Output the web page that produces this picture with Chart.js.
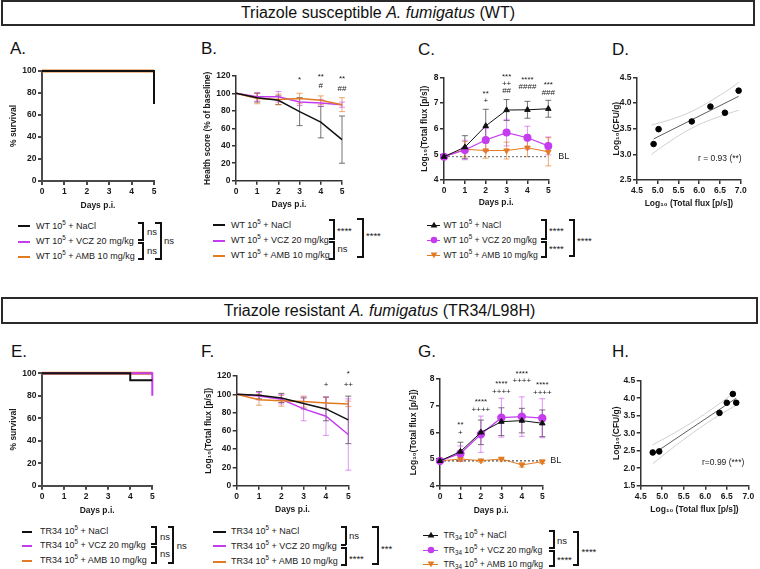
<!DOCTYPE html>
<html><head><meta charset="utf-8">
<script src="https://cdn.jsdelivr.net/npm/chart.js@4.4.1/dist/chart.umd.min.js"></script>
<style>
html,body{margin:0;padding:0;background:#fff;overflow:hidden;}
#root{position:relative;width:760px;height:569px;overflow:hidden;font-family:"Liberation Sans",Arial,sans-serif;color:#1a1a1a;}
.box{position:absolute;border:2px solid #2a2a2a;box-sizing:border-box;display:flex;align-items:center;justify-content:center;font-size:16px;color:#111;white-space:nowrap;}
.lbl{position:absolute;font-size:17px;line-height:20px;color:#111;}
.lg{position:absolute;font-size:9px;line-height:13px;height:13px;white-space:nowrap;color:#1a1a1a;}
.lg.sm{font-size:8.6px;}
.lg sup{font-size:6.3px;line-height:0;vertical-align:4px;}
.lg sub{font-size:6.3px;line-height:0;vertical-align:-2px;}
.br{position:absolute;background:#111;}
.st{position:absolute;font-size:9.5px;line-height:10px;white-space:nowrap;color:#1a1a1a;}
canvas{position:absolute;}
</style></head><body><div id="root"></div>
<script>
// ---------------- DATA ----------------
const DAYS = [0, 1, 2, 3, 4, 5];

// Survival (Kaplan-Meier step points)
const A_NACL_T = [0, 5],     A_NACL_S = [100, 70];
const A_VCZ_T  = [0, 5],     A_VCZ_S  = [100, 100];
const A_AMB_T  = [0, 5],     A_AMB_S  = [100, 100];
const E_NACL_T = [0, 4, 5],  E_NACL_S = [100, 93.75, 93.75];
const E_VCZ_T  = [0, 5],     E_VCZ_S  = [100, 80];
const E_AMB_T  = [0, 5],     E_AMB_S  = [100, 100];

// Health score WT (mean, SD)
const B_NACL = [100, 95, 92, 79, 67, 47],   B_NACL_SD = [0, 5, 5, 16, 18, 27];
const B_VCZ  = [100, 96, 96, 90, 89, 87],   B_VCZ_SD  = [0, 5, 6, 4, 4, 3];
const B_AMB  = [100, 94, 93, 94, 92, 87],   B_AMB_SD  = [0, 6, 6, 6, 5, 8];

// Log10 total flux WT
const C_NACL = [4.91, 5.28, 6.11, 6.73, 6.74, 6.78], C_NACL_SD = [0.03, 0.45, 0.65, 0.41, 0.33, 0.33];
const C_VCZ  = [4.91, 5.17, 5.56, 5.85, 5.65, 5.33], C_VCZ_SD  = [0, 0.38, 0.45, 0.52, 0.45, 0.35];
const C_AMB  = [4.91, 5.20, 5.15, 5.15, 5.26, 5.10], C_AMB_SD  = [0, 0.30, 0.30, 0.33, 0.35, 0.55];
const C_BL = 4.91;

// Correlation WT
const D_FLUX = [4.90, 5.02, 5.82, 6.27, 6.62, 6.95];
const D_CFU  = [3.20, 3.49, 3.64, 3.93, 3.81, 4.24];
const D_FIT_X = [4.90, 6.95], D_FIT_Y = [3.30, 4.13];
const D_BAND_X  = [4.85, 5.2, 5.6, 6.0, 6.4, 6.8, 6.95];
const D_BAND_UP = [3.57, 3.65, 3.76, 3.91, 4.10, 4.31, 4.40];
const D_BAND_LO = [3.00, 3.20, 3.41, 3.58, 3.71, 3.82, 3.86];

// Health score TR34 (mean, SD)
const F_NACL = [100, 99, 96, 90, 84, 72],     F_NACL_SD = [0, 4, 5, 6, 13, 26];
const F_VCZ  = [100, 98, 94.5, 84, 76, 56],   F_VCZ_SD  = [0, 4, 5, 13, 21, 39];
const F_AMB  = [100, 94, 93, 92, 90.5, 89.5], F_AMB_SD  = [0, 6, 6, 6, 6, 3];

// Log10 total flux TR34
const G_NACL = [4.93, 5.28, 6.00, 6.40, 6.44, 6.34], G_NACL_SD = [0.03, 0.35, 0.46, 0.52, 0.46, 0.50];
const G_VCZ  = [4.93, 5.21, 5.93, 6.55, 6.59, 6.53], G_VCZ_SD  = [0, 0.28, 0.68, 0.73, 0.74, 0.73];
const G_AMB  = [4.93, 5.00, 4.94, 5.00, 4.78, 4.90], G_AMB_SD  = [0, 0.08, 0.05, 0.07, 0.08, 0.07];
const G_BL = 4.93;

// Correlation TR34
const H_FLUX = [4.78, 4.93, 6.33, 6.50, 6.64, 6.72];
const H_CFU  = [2.45, 2.48, 3.58, 3.87, 4.12, 3.87];
const H_FIT_X = [4.78, 6.72], H_FIT_Y = [2.40, 4.00];
const H_BAND_X  = [4.78, 5.2, 5.6, 6.0, 6.4, 6.72];
const H_BAND_UP = [2.67, 2.95, 3.24, 3.56, 3.91, 4.21];
const H_BAND_LO = [2.13, 2.54, 2.91, 3.26, 3.57, 3.80];

// Significance marks above points (day, text)
const B_SIG_DAY = [3, 4, 4, 5, 5];
const B_SIG_TXT = ['*', '**', '#', '**', '##'];
const C_SIG_DAY = [2, 2, 3, 3, 3, 4, 4, 5, 5];
const C_SIG_TXT = ['**', '+', '***', '++', '##', '****', '####', '***', '###'];
const F_SIG_DAY = [4, 5, 5];
const F_SIG_TXT = ['+', '*', '++'];
const G_SIG_DAY = [1, 1, 2, 2, 3, 3, 4, 4, 5, 5];
const G_SIG_TXT = ['**', '+', '****', '++++', '****', '++++', '****', '++++', '****', '++++'];

// Tick values
const DAY_TICKS = [0, 1, 2, 3, 4, 5];

// Legend texts
const LEG_WT = ['WT 10<sup>5</sup> + NaCl', 'WT 10<sup>5</sup> + VCZ 20 mg/kg', 'WT 10<sup>5</sup> + AMB 10 mg/kg'];
const LEG_TR = ['TR34 10<sup>5</sup> + NaCl', 'TR34 10<sup>5</sup> + VCZ 20 mg/kg', 'TR34 10<sup>5</sup> + AMB 10 mg/kg'];
const LEG_TRS = ['TR<sub>34</sub> 10<sup>5</sup> + NaCl', 'TR<sub>34</sub> 10<sup>5</sup> + VCZ 20 mg/kg', 'TR<sub>34</sub> 10<sup>5</sup> + AMB 10 mg/kg'];

// ---------------- LAYOUT / STYLE ----------------
// y positions (axis units) of significance marks
const B_SIG_Y = [115, 119, 108.5, 116, 105.5];
const C_SIG_Y = [7.36, 7.10, 8.01, 7.75, 7.49, 7.91, 7.62, 7.71, 7.39];
const F_SIG_Y = [110.9, 122.6, 110.9];
const G_SIG_Y = [6.27, 5.99, 7.15, 6.86, 7.81, 7.52, 8.21, 7.92, 7.77, 7.48];

const FONT = '"Liberation Sans", Arial, Helvetica, sans-serif';
const BLACK = '#111111', MAG = '#C43CF0', ORG = '#E27A22';
const BLK_E = 'rgba(70,70,70,0.75)', MAG_E = 'rgba(196,60,240,0.55)', ORG_E = 'rgba(226,122,34,0.65)';
const COLORS3 = [BLACK, MAG, ORG];

const root = document.getElementById('root');
function el(tag, cls, style, html) {
  const e = document.createElement(tag);
  if (cls) e.className = cls;
  Object.assign(e.style, style || {});
  if (html != null) e.innerHTML = html;
  root.appendChild(e);
  return e;
}

// error bar plugin (uses chart scales)
const errorBars = {
  id: 'errorBars',
  beforeDatasetsDraw(chart) {
    const {ctx, scales: {x, y}} = chart;
    chart.data.datasets.forEach(ds => {
      if (!ds.errors) return;
      ctx.save();
      ctx.strokeStyle = ds.errColor; ctx.lineWidth = 1;
      ds.data.forEach((p, i) => {
        const e = ds.errors[i]; if (!e) return;
        const px = x.getPixelForValue(p.x);
        const y1 = y.getPixelForValue(p.y + e), y2 = y.getPixelForValue(p.y - e);
        ctx.beginPath();
        ctx.moveTo(px, y1); ctx.lineTo(px, y2);
        ctx.moveTo(px - 3, y1); ctx.lineTo(px + 3, y1);
        ctx.moveTo(px - 3, y2); ctx.lineTo(px + 3, y2);
        ctx.stroke();
      });
      ctx.restore();
    });
  }
};
function annPlugin(items) {
  return {
    id: 'ann',
    afterDatasetsDraw(chart) {
      const {ctx, scales: {x, y}} = chart;
      ctx.save();
      ctx.fillStyle = '#1a1a1a'; ctx.textBaseline = 'middle';
      items.forEach(it => {
        ctx.font = (it.size || 8) + 'px ' + FONT;
        ctx.textAlign = it.align || 'center';
        ctx.fillText(it.text, x.getPixelForValue(it.x) + (it.dx || 0), y.getPixelForValue(it.y));
      });
      ctx.restore();
    }
  };
}
function sig(days, txt, ys) { return days.map((d, i) => ({x: d, y: ys[i], text: txt[i]})); }

function panel(R, cfg) {
  const padL = 42, padT = 16, padR = cfg.padR || 16, padB = 34;
  const cl = Math.floor(R.L - padL), ct = Math.floor(R.T - padT);
  const cr = Math.ceil(R.R + padR), cb = Math.ceil(R.B + padB);
  const cw = cr - cl, ch = cb - ct;
  const cv = document.createElement('canvas');
  cv.width = cw; cv.height = ch;
  Object.assign(cv.style, {left: cl + 'px', top: ct + 'px', width: cw + 'px', height: ch + 'px'});
  root.appendChild(cv);
  const yW = R.L - cl, xH = cb - R.B;
  const FS = 8.5, LH = FS * 1.2;
  const tickFont = {family: FONT, size: FS, weight: 'bold', lineHeight: 1.2};
  const titleFont = {family: FONT, size: FS, weight: 'bold', lineHeight: 1.2};
  const ac = cfg.axisColor || '#333', aw = cfg.axisWidth || 1.5;
  function axis(a) {
    return {
      type: 'linear', min: a.min, max: a.max,
      border: {display: true, color: ac, width: aw},
      grid: {display: true, drawOnChartArea: false, drawTicks: true, tickLength: 4, tickColor: ac, tickWidth: aw, color: ac, lineWidth: aw},
      ticks: {stepSize: a.step, font: tickFont, color: '#1a1a1a', padding: 1.5, autoSkip: false, maxRotation: 0,
              callback: a.fmt || (v => String(v))}
    };
  }
  const xs = axis(cfg.x); xs.position = 'bottom';
  xs.title = {display: true, text: cfg.x.title, font: titleFont, color: '#1a1a1a', padding: {top: 0, bottom: cb - cfg.xTitleY - LH / 2}};
  xs.afterFit = s => { s.height = xH; };
  const ys = axis(cfg.y); ys.position = 'left';
  ys.title = {display: true, text: cfg.y.title, font: titleFont, color: '#1a1a1a', padding: {top: cfg.yTitleX - cl - LH / 2, bottom: 0}};
  ys.afterFit = s => { s.width = yW; };
  return new Chart(cv, {
    type: 'line',
    data: {datasets: cfg.datasets},
    options: {
      responsive: false, animation: false, devicePixelRatio: 1,
      layout: {padding: {left: 0, top: R.T - ct, right: cr - R.R, bottom: 0}},
      plugins: {legend: {display: false}, tooltip: {enabled: false}},
      scales: {x: xs, y: ys}
    },
    plugins: [errorBars, annPlugin(cfg.ann || [])]
  });
}

function steps(t, s, color, w) {
  return {data: t.map((d, i) => ({x: d, y: s[i]})), borderColor: color, borderWidth: w, pointRadius: 0, stepped: true, clip: false, fill: false};
}
function series(vals, sd, color, errColor, extra) {
  return Object.assign({
    data: DAYS.map((d, i) => ({x: d, y: vals[i]})), errors: sd, errColor,
    borderColor: color, backgroundColor: color, pointBackgroundColor: color, pointBorderColor: color,
    borderWidth: 1.5, pointRadius: 0, clip: false, tension: 0, fill: false
  }, extra || {});
}
function xy(xv, yv, extra) {
  return Object.assign({data: xv.map((v, i) => ({x: v, y: yv[i]})), clip: false, pointRadius: 0, borderWidth: 1, fill: false}, extra || {});
}
const dayAxis = {min: 0, max: 5, step: 1, title: 'Days p.i.', fmt: v => DAY_TICKS.includes(v) ? String(v) : ''};
const f1 = v => v.toFixed(1);

// ---------------- TEXT BLOCKS ----------------
el('div', 'box', {left: '1px', top: '0px', width: '754px', height: '26px'}, 'Triazole susceptible&nbsp;<i>A. fumigatus</i>&nbsp;(WT)');
el('div', 'box', {left: '1px', top: '297px', width: '757px', height: '27px'}, 'Triazole resistant&nbsp;<i>A. fumigatus</i>&nbsp;(TR34/L98H)');
[['A.', 10, 49], ['B.', 201, 49], ['C.', 418, 50], ['D.', 612, 50],
 ['E.', 11, 352], ['F.', 201, 352], ['G.', 418, 352], ['H.', 612, 352]].forEach(([t, x, y]) =>
  el('div', 'lbl', {left: x + 'px', top: (y - 10) + 'px'}, t));

// ---------------- CHARTS ----------------
panel({L: 42, T: 71, R: 154, B: 181}, {
  x: dayAxis, y: {min: 0, max: 100, step: 20, title: '% survival'},
  yTitleX: 14, xTitleY: 206, axisColor: '#4a4a4a', axisWidth: 2,
  datasets: [steps(A_NACL_T, A_NACL_S, BLACK, 2), steps(A_VCZ_T, A_VCZ_S, MAG, 2), steps(A_AMB_T, A_AMB_S, ORG, 3)]
});
panel({L: 236, T: 75.8, R: 342, B: 180.7}, {
  x: dayAxis, y: {min: 0, max: 120, step: 20, title: 'Health score (% of baseline)'},
  yTitleX: 208, xTitleY: 205,
  datasets: [series(B_NACL, B_NACL_SD, BLACK, BLK_E), series(B_AMB, B_AMB_SD, ORG, ORG_E), series(B_VCZ, B_VCZ_SD, MAG, MAG_E)],
  ann: sig(B_SIG_DAY, B_SIG_TXT, B_SIG_Y)
});
panel({L: 444, T: 77.5, R: 548.3, B: 180}, {
  x: dayAxis, y: {min: 4, max: 8, step: 1, title: 'Log\u2081\u2080(Total flux [p/s])'},
  yTitleX: 425, xTitleY: 203, padR: 26,
  datasets: [
    series(C_NACL, C_NACL_SD, BLACK, BLK_E, {borderWidth: 1, pointStyle: 'triangle', pointRadius: 3.2}),
    series(C_VCZ, C_VCZ_SD, MAG, MAG_E, {borderWidth: 1.2, pointStyle: 'circle', pointRadius: 3.4}),
    series(C_AMB, C_AMB_SD, ORG, ORG_E, {borderWidth: 1, pointStyle: 'triangle', rotation: 180, pointRadius: 3.2}),
    xy([0, 5], [C_BL, C_BL], {borderColor: '#666', borderDash: [2, 2]})
  ],
  ann: sig(C_SIG_DAY, C_SIG_TXT, C_SIG_Y).concat([{x: 5, dx: 10, y: C_BL, text: 'BL', align: 'left', size: 9}])
});
panel({L: 637, T: 77.3, R: 740.7, B: 180}, {
  x: {min: 4.5, max: 7, step: 0.5, title: 'Log\u2081\u2080 (Total flux [p/s])', fmt: f1},
  y: {min: 2.5, max: 4.5, step: 0.5, title: 'Log\u2081\u2080(CFU/g)', fmt: f1},
  yTitleX: 616.7, xTitleY: 203.3, padR: 14,
  datasets: [
    xy(D_FLUX, D_CFU, {showLine: false, pointRadius: 2.8, pointBackgroundColor: '#000', pointBorderColor: '#000'}),
    xy(D_FIT_X, D_FIT_Y, {borderColor: '#333', borderWidth: 0.8}),
    xy(D_BAND_X, D_BAND_UP, {borderColor: '#c4c4c4', borderWidth: 0.8, tension: 0.4}),
    xy(D_BAND_X, D_BAND_LO, {borderColor: '#c4c4c4', borderWidth: 0.8, tension: 0.4})
  ]
});
panel({L: 42, T: 373.3, R: 152.3, B: 485.7}, {
  x: dayAxis, y: {min: 0, max: 100, step: 20, title: '% survival'},
  yTitleX: 14, xTitleY: 510.7, axisColor: '#4a4a4a', axisWidth: 2,
  datasets: [steps(E_NACL_T, E_NACL_S, BLACK, 2), steps(E_VCZ_T, E_VCZ_S, MAG, 2), steps(E_AMB_T, E_AMB_S, ORG, 3)]
});
panel({L: 236.7, T: 376, R: 348.3, B: 485.7}, {
  x: dayAxis, y: {min: 0, max: 120, step: 20, title: 'Log\u2081\u2080(Total flux [p/s])'},
  yTitleX: 209, xTitleY: 510,
  datasets: [series(F_NACL, F_NACL_SD, BLACK, BLK_E), series(F_AMB, F_AMB_SD, ORG, ORG_E), series(F_VCZ, F_VCZ_SD, MAG, MAG_E)],
  ann: sig(F_SIG_DAY, F_SIG_TXT, F_SIG_Y)
});
panel({L: 440, T: 379, R: 542.3, B: 485.7}, {
  x: dayAxis, y: {min: 4, max: 8, step: 1, title: 'Log\u2081\u2080(Total flux [p/s])'},
  yTitleX: 414, xTitleY: 510.7, padR: 26,
  datasets: [
    series(G_NACL, G_NACL_SD, BLACK, BLK_E, {borderWidth: 1, pointStyle: 'triangle', pointRadius: 3.2}),
    series(G_VCZ, G_VCZ_SD, MAG, MAG_E, {borderWidth: 1.2, pointStyle: 'circle', pointRadius: 3.6}),
    series(G_AMB, G_AMB_SD, ORG, ORG_E, {borderWidth: 1, pointStyle: 'triangle', rotation: 180, pointRadius: 3.2}),
    xy([0, 5], [G_BL, G_BL], {borderColor: '#222', borderDash: [2, 2]})
  ],
  ann: sig(G_SIG_DAY, G_SIG_TXT, G_SIG_Y).concat([{x: 5, dx: 8, y: G_BL, text: 'BL', align: 'left', size: 9}])
});
panel({L: 640.7, T: 380.7, R: 748.3, B: 485.7}, {
  x: {min: 4.5, max: 7, step: 0.5, title: 'Log\u2081\u2080 (Total flux [p/s])', fmt: f1},
  y: {min: 1.5, max: 4.5, step: 0.5, title: 'Log\u2081\u2080(CFU/g)', fmt: f1},
  yTitleX: 616.7, xTitleY: 509.3, padR: 11,
  datasets: [
    xy(H_FLUX, H_CFU, {showLine: false, pointRadius: 2.8, pointBackgroundColor: '#000', pointBorderColor: '#000'}),
    xy(H_FIT_X, H_FIT_Y, {borderColor: '#333', borderWidth: 0.8}),
    xy(H_BAND_X, H_BAND_UP, {borderColor: '#c4c4c4', borderWidth: 0.8, tension: 0.4}),
    xy(H_BAND_X, H_BAND_LO, {borderColor: '#c4c4c4', borderWidth: 0.8, tension: 0.4})
  ]
});

// r annotations
el('div', 'st', {left: '698px', top: '153px', fontSize: '8.5px'}, 'r = 0.93 (**)');
el('div', 'st', {left: '702px', top: '456.5px', fontSize: '8.5px'}, 'r=0.99 (***)');

// ---------------- LEGENDS ----------------
function marker(kind, cx, cy, color) {
  const d = el('div', '', {position: 'absolute', left: (cx - 4) + 'px', top: (cy - 4) + 'px', width: '8px', height: '8px'});
  const shape = kind === 'up' ? `<polygon points="4,0.8 7.4,6.6 0.6,6.6" fill="${color}"/>`
    : kind === 'down' ? `<polygon points="4,7.2 7.4,1.4 0.6,1.4" fill="${color}"/>`
    : `<circle cx="4" cy="4" r="3.3" fill="${color}"/>`;
  d.innerHTML = `<svg width="8" height="8" viewBox="0 0 8 8" style="display:block">${shape}</svg>`;
}
function legend(rows, ys, sx0, sx1, tx, withMarkers, lw) {
  rows.forEach((html, i) => {
    const h = lw || 2;
    el('div', 'br', {left: sx0 + 'px', top: Math.round(ys[i] - h / 2) + 'px', width: (sx1 - sx0) + 'px', height: h + 'px', background: COLORS3[i]});
    if (withMarkers) marker(['up', 'circle', 'down'][i], (sx0 + sx1) / 2, Math.round(ys[i]), COLORS3[i]);
    el('div', withMarkers ? 'lg sm' : 'lg', {left: tx + 'px', top: (ys[i] - 6.5) + 'px'}, html);
  });
}
function bracket(x, y1, y2, tick) {
  el('div', 'br', {left: (x - 1) + 'px', top: (y1 - 1) + 'px', width: '2px', height: (y2 - y1 + 2) + 'px'});
  el('div', 'br', {left: (x - tick) + 'px', top: (y1 - 1) + 'px', width: tick + 'px', height: '2px'});
  el('div', 'br', {left: (x - tick) + 'px', top: (y2 - 1) + 'px', width: tick + 'px', height: '2px'});
}
function stat(x, y, t) { el('div', 'st', {left: x + 'px', top: (y - 5) + 'px'}, t); }

// A
legend(LEG_WT, [226, 241.5, 256.5], 18, 30, 36, false);
bracket(143, 223, 240, 5); bracket(143, 243, 259, 5);
stat(147, 231.7, 'ns'); stat(147, 250.7, 'ns');
bracket(161, 223, 259, 6); stat(164, 241, 'ns');
// B
legend(LEG_WT, [225, 240.7, 255.7], 213, 225, 231, false);
bracket(333.5, 220, 238.5, 5); bracket(333.5, 242, 259, 5);
stat(337, 231, '****'); stat(337.5, 249, 'ns');
bracket(362.5, 219, 257, 6); stat(366, 236, '****');
// C
legend(LEG_WT, [225, 240, 255], 427, 440, 443.5, true, 1);
bracket(546, 220, 238.5, 5); bracket(546, 241.5, 256.7, 5);
stat(549, 230.7, '****'); stat(549, 249, '****');
bracket(573.5, 220, 256, 5); stat(577, 240.7, '****');
// E
legend(LEG_TR, [531.7, 545.5, 560.5], 22, 32, 40, false);
bracket(156, 527, 543.5, 5); bracket(156, 546.5, 563.3, 5);
stat(160, 536.7, 'ns'); stat(160, 554, 'ns');
bracket(173.3, 527.3, 562.7, 5); stat(176.7, 546, 'ns');
// F
legend(LEG_TR, [531.7, 546, 561.7], 213, 226, 231, false);
bracket(346, 527.3, 544.5, 5); bracket(346, 547.5, 565, 5);
stat(349, 535.7, 'ns'); stat(349, 559.3, '****');
bracket(378.3, 527, 564.3, 6); stat(381, 549, '***');
// G
legend(LEG_TRS, [535, 550, 564], 423, 438, 443.5, true, 1);
bracket(554, 530.7, 548, 5); bracket(554, 551, 566, 5);
stat(557, 540.7, 'ns'); stat(557, 560, '****');
bracket(577.5, 531.7, 565, 5); stat(581.5, 551.7, '****');
</script></body></html>
